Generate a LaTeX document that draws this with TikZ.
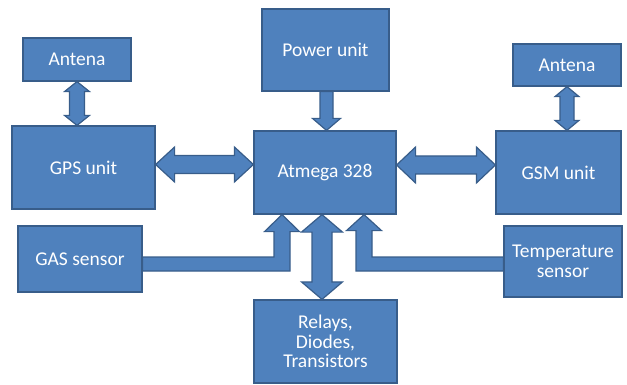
\documentclass[tikz,border=0pt]{standalone}
\usepackage{fontspec}
\setmainfont{Carlito}
\usetikzlibrary{calc}
\definecolor{boxfill}{HTML}{4F81BD}
\definecolor{boxline}{HTML}{385D8A}
\tikzset{
  box/.style={rectangle, fill=boxfill, draw=boxline, line width=1.2pt, inner sep=2pt,
    text=white, align=center, font=\fontsize{19.5}{19.5}\selectfont},
  blk/.style={fill=boxfill, draw=boxline, line width=1.2pt, line join=miter}
}
\newcommand{\VDArrow}[5]{%
  \draw[blk] let \p1=#1, \p2=#2 in
  (\x1,\y1) -- (\x1+#4,\y1-#5) -- (\x1+#3,\y1-#5) -- (\x1+#3,\y2+#5) -- (\x1+#4,\y2+#5)
  -- (\x1,\y2) -- (\x1-#4,\y2+#5) -- (\x1-#3,\y2+#5) -- (\x1-#3,\y1-#5) -- (\x1-#4,\y1-#5) -- cycle;}
\newcommand{\HDArrow}[5]{%
  \draw[blk] let \p1=#1, \p2=#2 in
  (\x1,\y1) -- (\x1+#5,\y1+#4) -- (\x1+#5,\y1+#3) -- (\x2-#5,\y1+#3) -- (\x2-#5,\y1+#4)
  -- (\x2,\y1) -- (\x2-#5,\y1-#4) -- (\x2-#5,\y1-#3) -- (\x1+#5,\y1-#3) -- (\x1+#5,\y1-#4) -- cycle;}
\newcommand{\VDownArrow}[5]{%
  \draw[blk] let \p1=#1, \p2=#2 in
  (\x1-#3,\y1) -- (\x1+#3,\y1) -- (\x1+#3,\y2+#5) -- (\x1+#4,\y2+#5) -- (\x1,\y2)
  -- (\x1-#4,\y2+#5) -- (\x1-#3,\y2+#5) -- cycle;}
\begin{document}
\begin{tikzpicture}[x=1pt,y=-1pt]
\useasboundingbox (0,0) rectangle (627,385);
% boxes
\node[box, minimum width=108pt, minimum height=43pt] (antL) at (77,59.5) {Antena};
\node[box, minimum width=143pt, minimum height=83pt] (gps) at (83.5,167.5) {GPS unit};
\node[box, minimum width=127pt, minimum height=82pt] (power) at (325.5,50) {Power unit};
\node[box, minimum width=142pt, minimum height=83pt] (atm) at (325,172.5) {Atmega 328};
\node[box, minimum width=108pt, minimum height=42pt] (antR) at (567,65) {Antena};
\node[box, minimum width=125pt, minimum height=83pt] (gsm) at (558.5,172.5) {GSM unit};
\node[box, minimum width=124pt, minimum height=66pt] (gas) at (80,259) {GAS sensor};
\node[box, minimum width=143pt, minimum height=83pt] (relay) at (325.5,341.5) {Relays,\\Diodes,\\Transistors};
\node[box, minimum width=118pt, minimum height=71pt] (temp) at (563,261.5) {Temperature\\sensor};
% arrows
\VDArrow{(antL.south)}{(gps.north)}{7.5pt}{12.5pt}{10pt}
\VDArrow{(antR.south)}{(gsm.north)}{7pt}{12pt}{10pt}
\HDArrow{($(gps.east)+(0,-3)$)}{(atm.west)}{9pt}{17.5pt}{19pt}
\HDArrow{($(atm.east)+(0,-7.5)$)}{(gsm.west)}{9pt}{18pt}{19pt}
\VDownArrow{($(power.south)+(1,0)$)}{($(atm.north)+(1.5,0)$)}{6.5pt}{14pt}{12pt}
\VDArrow{($(atm.south)+(-3,0)$)}{($(relay.north)+(-3.5,0)$)}{10pt}{20.5pt}{17.5pt}
% GAS sensor elbow arrow
\draw[blk] let \p1=($(gas.east)+(0,5)$), \p2=($(atm.south)+(-43,0)$) in
  (\x1,\y1+7pt) -- (\x2-8pt,\y1+7pt) -- (\x2-8pt,\y2-17pt) -- (\x2-17.5pt,\y2-17pt)
  -- (\x2,\y2) -- (\x2+17.5pt,\y2-17pt) -- (\x2+8pt,\y2-17pt) -- (\x2+8pt,\y1-7pt)
  -- (\x1,\y1-7pt) -- cycle;
% Temperature sensor elbow arrow
\draw[blk] let \p1=($(temp.west)+(0,2.5)$), \p2=($(atm.south)+(39,0)$) in
  (\x1,\y1+7pt) -- (\x2+8pt,\y1+7pt) -- (\x2+8pt,\y2-16pt) -- (\x2+17.5pt,\y2-16pt)
  -- (\x2,\y2) -- (\x2-17.5pt,\y2-16pt) -- (\x2-8pt,\y2-16pt) -- (\x2-8pt,\y1-7pt)
  -- (\x1,\y1-7pt) -- cycle;
\end{tikzpicture}
\end{document}
